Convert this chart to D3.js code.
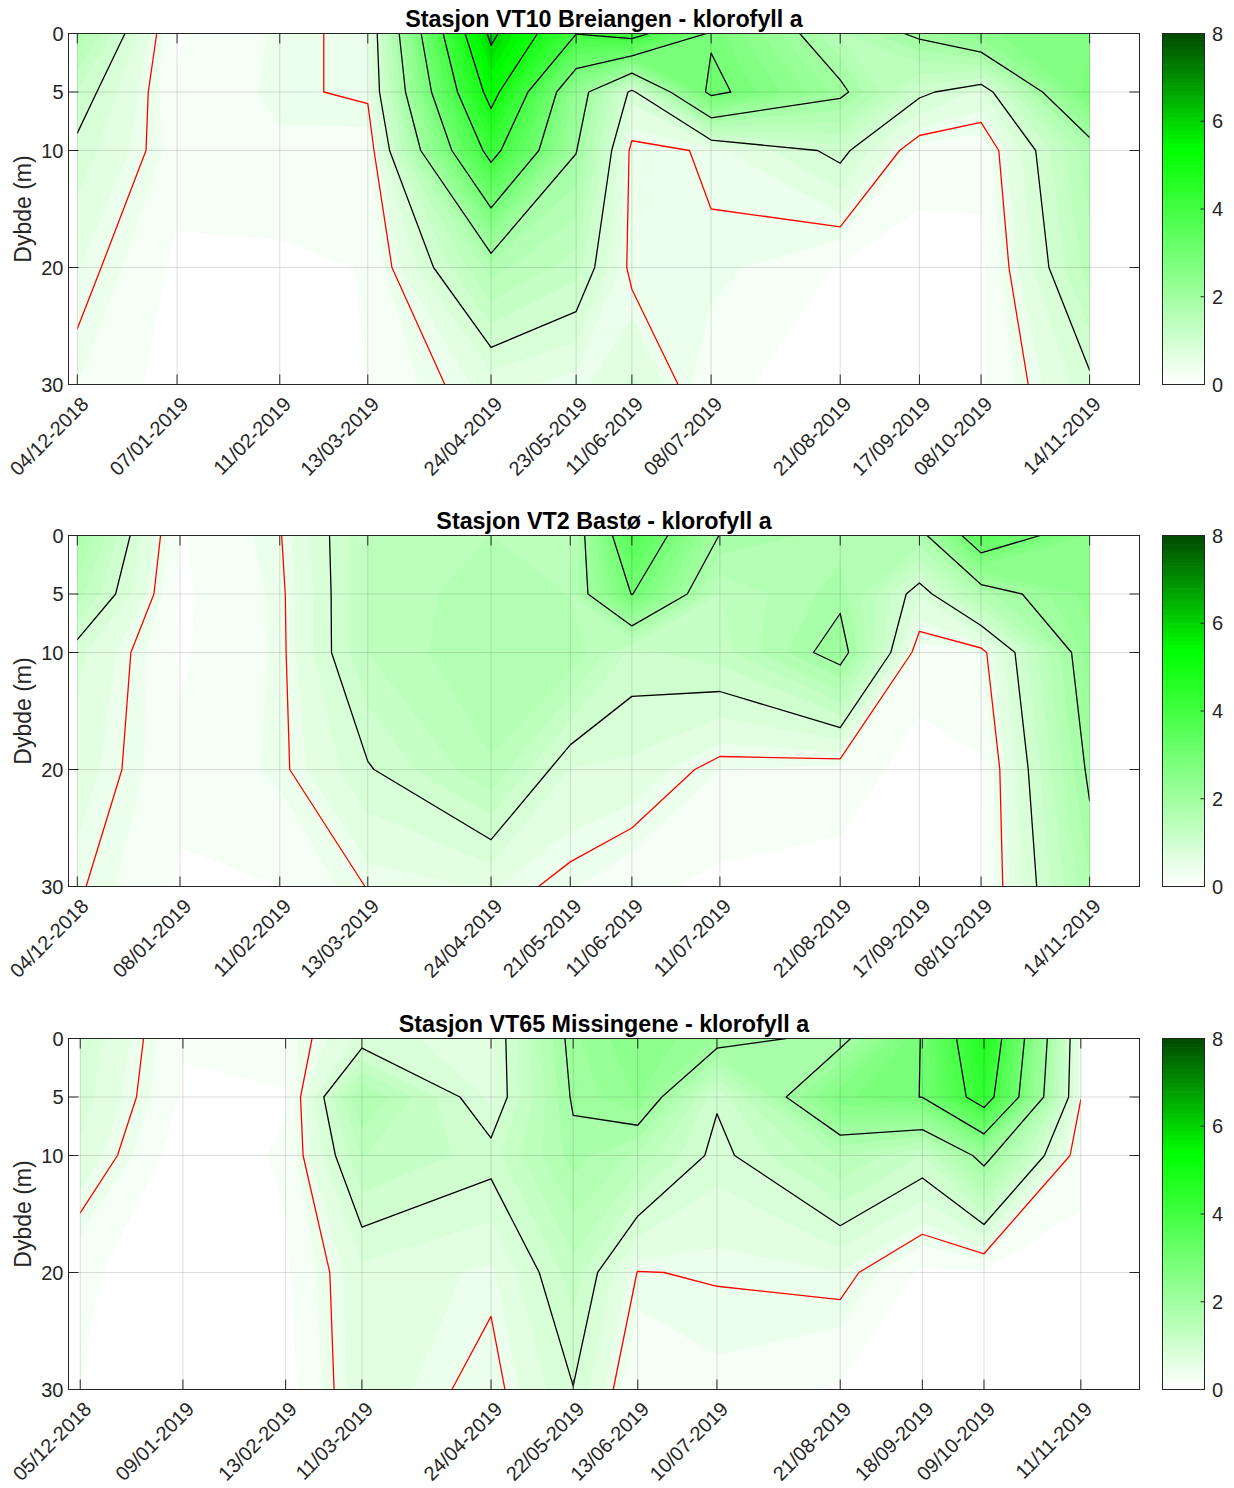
<!DOCTYPE html>
<html><head><meta charset="utf-8">
<script src="https://cdn.jsdelivr.net/npm/d3@7"></script>
<style>
html,body{margin:0;padding:0;background:#fff;}
svg{display:block;font-family:"Liberation Sans",Arial,Helvetica,sans-serif;}
</style></head><body>
<svg id="chart" width="1234" height="1488"></svg>
<script>
// ---------------- data ----------------
const depths = [0, 5, 10, 20, 30];
const depthTicks = [0, 5, 10, 20, 30];
const colorbarTicks = [0, 2, 4, 6, 8];
const redLevels = [0.5];
const blackLevels = [1, 2, 3, 4, 5, 6];
const yLabel = "Dybde (m)";

const titleVT10 = "Stasjon VT10 Breiangen - klorofyll a";
const datesVT10 = ["2018-12-04","2019-01-07","2019-02-11","2019-03-13","2019-04-24","2019-05-23","2019-06-11","2019-07-08","2019-08-21","2019-09-17","2019-10-08","2019-11-14"];
// one row per date, values at depths 0,5,10,20,30 m
const chlVT10 = [
  [1.75, 1.19, 0.92, 0.61, 0.40],
  [0.18, 0.22, 0.31, 0.15, 0.10],
  [0.43, 0.45, 0.36, 0.15, 0.10],
  [0.57, 0.55, 0.30, 0.21, 0.20],
  [6.18, 5.29, 4.26, 1.69, 0.68],
  [4.02, 2.32, 2.02, 1.29, 0.52],
  [4.30, 0.90, 0.42, 0.42, 0.85],
  [2.92, 3.16, 0.53, 0.47, 0.25],
  [1.58, 2.11, 1.10, 0.18, 0.10],
  [2.10, 1.08, 0.30, 0.10, 0.05],
  [2.58, 0.76, 0.26, 0.15, 0.17],
  [2.70, 2.95, 1.73, 1.51, 0.93]
];

const titleVT2 = "Stasjon VT2 Bastø - klorofyll a";
const datesVT2 = ["2018-12-04","2019-01-08","2019-02-11","2019-03-13","2019-04-24","2019-05-21","2019-06-11","2019-07-11","2019-08-21","2019-09-17","2019-10-08","2019-11-14"];
const chlVT2 = [
  [1.87, 1.50, 0.86, 0.70, 0.53],
  [0.18, 0.16, 0.17, 0.24, 0.18],
  [0.48, 0.44, 0.43, 0.44, 0.20],
  [1.40, 1.40, 1.40, 0.97, 0.51],
  [1.60, 1.75, 1.80, 1.57, 0.62],
  [1.48, 1.59, 1.75, 0.80, 0.42],
  [3.70, 3.02, 1.15, 0.75, 0.25],
  [1.98, 1.40, 1.30, 0.40, 0.15],
  [1.70, 1.90, 2.20, 0.33, 0.10],
  [1.78, 0.82, 0.32, 0.10, 0.05],
  [3.55, 1.70, 0.40, 0.17, 0.18],
  [2.54, 2.49, 2.32, 2.08, 1.78]
];

const titleVT65 = "Stasjon VT65 Missingene - klorofyll a";
const datesVT65 = ["2018-12-05","2019-01-09","2019-02-13","2019-03-11","2019-04-24","2019-05-22","2019-06-13","2019-07-10","2019-08-21","2019-09-18","2019-10-09","2019-11-11"];
const chlVT65 = [
  [0.95, 0.90, 0.75, 0.24, 0.20],
  [0.22, 0.17, 0.06, 0.05, 0.03],
  [0.32, 0.18, 0.23, 0.17, 0.10],
  [0.84, 1.82, 1.41, 0.74, 0.73],
  [0.75, 0.74, 1.11, 0.56, 0.40],
  [2.14, 2.05, 1.89, 1.31, 0.99],
  [2.60, 2.42, 1.55, 0.49, 0.20],
  [2.19, 1.04, 0.90, 0.52, 0.35],
  [1.85, 2.75, 1.60, 0.60, 0.17],
  [3.03, 3.01, 1.20, 0.16, 0.05],
  [4.78, 4.40, 2.18, 0.18, 0.10],
  [0.53, 0.51, 0.29, 0.10, 0.05]
];

// ---------------- layout ----------------
const svg = d3.select("#chart");
const X0 = 68.5, X1 = 1139.5, PLOT_H = 351;
const tops = [33.5, 535.5, 1038.5];
const CB_X = 1162, CB_W = 42;
const AX = "#262626";
const FS = 20;

const panels = [
  {title: titleVT10, dates: datesVT10, values: chlVT10},
  {title: titleVT2, dates: datesVT2, values: chlVT2},
  {title: titleVT65, dates: datesVT65, values: chlVT65}
];

const xScale = d3.scaleUtc()
  .domain([new Date(Date.UTC(2018, 11, 1)), new Date(Date.UTC(2019, 11, 1))])
  .range([X0, X1]);
const color = d3.scaleLinear().domain([0, 16/3, 8])
  .range(["#ffffff", "#00ff00", "#004600"]).interpolate(d3.interpolateRgb).clamp(true);
const fillThresholds = d3.range(1, 40).map(i => +(i * 0.2).toFixed(2));
const fmt = d3.utcFormat("%d/%m-%Y");
const PAD = -1e6;

function makeMap(pos) {
  const n = pos.length;
  return function (d) {
    if (d <= 0) return pos[0] + Math.max(d * 1e9, -80);
    if (d >= n - 1) return pos[n - 1] + Math.min((d - (n - 1)) * 1e9, 80);
    const i = Math.floor(d), t = d - i;
    return pos[i] + t * (pos[i + 1] - pos[i]);
  };
}

panels.forEach((p, k) => {
  const top = tops[k], bottom = top + PLOT_H;
  const y = d3.scaleLinear().domain([0, 30]).range([top, bottom]);
  const dates = p.dates.map(s => new Date(s + "T00:00:00Z"));
  const xs = dates.map(d => xScale(d));
  const ys = depths.map(d => y(d));
  const n = xs.length, m = ys.length;
  const gw = n + 2, gh = m + 2;
  const grid = new Array(gw * gh);
  for (let j = 0; j < gh; j++) for (let i = 0; i < gw; i++) {
    const edge = i === 0 || j === 0 || i === gw - 1 || j === gh - 1;
    grid[j * gw + i] = edge ? PAD : p.values[i - 1][j - 1];
  }
  const mx = makeMap(xs), my = makeMap(ys);
  const proj = d3.geoTransform({point: function (cx, cy) { this.stream.point(mx(cx - 1.5), my(cy - 1.5)); }});
  const path = d3.geoPath(proj);

  const clipId = "clip" + k;
  svg.append("clipPath").attr("id", clipId).append("rect")
    .attr("x", xs[0]).attr("y", ys[0]).attr("width", xs[n - 1] - xs[0]).attr("height", ys[m - 1] - ys[0]);

  const g = svg.append("g");
  g.append("rect").attr("x", X0).attr("y", top).attr("width", X1 - X0).attr("height", PLOT_H).attr("fill", "#fff");

  const gc = g.append("g").attr("clip-path", `url(#${clipId})`);
  gc.append("rect").attr("x", xs[0]).attr("y", ys[0]).attr("width", xs[n - 1] - xs[0]).attr("height", ys[m - 1] - ys[0]).attr("fill", color(0));
  const fills = d3.contours().size([gw, gh]).thresholds(fillThresholds)(grid);
  gc.selectAll("path.band").data(fills).join("path").attr("class", "band")
    .attr("d", path).attr("fill", d => color(d.value)).attr("fill-rule", "evenodd");

  // grid lines
  const gg = g.append("g").attr("stroke", AX).attr("stroke-opacity", 0.15).attr("stroke-width", 1);
  xs.forEach(xv => gg.append("line").attr("x1", xv).attr("x2", xv).attr("y1", top).attr("y2", bottom));
  depthTicks.forEach(d => gg.append("line").attr("x1", X0).attr("x2", X1).attr("y1", y(d)).attr("y2", y(d)));

  // contour lines
  const gl = g.append("g").attr("clip-path", `url(#${clipId})`).attr("fill", "none").attr("stroke-width", 1.3).attr("stroke-linejoin", "round");
  const blk = d3.contours().size([gw, gh]).thresholds(blackLevels)(grid);
  gl.selectAll("path.blk").data(blk).join("path").attr("class", "blk").attr("d", path).attr("stroke", "#000");
  const red = d3.contours().size([gw, gh]).thresholds(redLevels)(grid);
  gl.selectAll("path.red").data(red).join("path").attr("class", "red").attr("d", path).attr("stroke", "#ff0000");

  // axes box and ticks
  const ga = g.append("g").attr("stroke", AX).attr("stroke-width", 1).attr("fill", "none");
  ga.append("rect").attr("x", X0).attr("y", top).attr("width", X1 - X0).attr("height", PLOT_H);
  xs.forEach(xv => {
    ga.append("line").attr("x1", xv).attr("x2", xv).attr("y1", bottom).attr("y2", bottom - 10);
    ga.append("line").attr("x1", xv).attr("x2", xv).attr("y1", top).attr("y2", top + 10);
  });
  depthTicks.forEach(d => {
    ga.append("line").attr("x1", X0).attr("x2", X0 + 10).attr("y1", y(d)).attr("y2", y(d));
    ga.append("line").attr("x1", X1).attr("x2", X1 - 10).attr("y1", y(d)).attr("y2", y(d));
  });

  // tick labels
  const gt = g.append("g").attr("fill", AX).attr("font-size", FS);
  dates.forEach((d, i) => {
    gt.append("text").attr("transform", `translate(${xs[i] + 12.5},${bottom + 21}) rotate(-45)`)
      .attr("text-anchor", "end").text(fmt(d));
  });
  depthTicks.forEach(d => {
    gt.append("text").attr("x", X0 - 5).attr("y", y(d)).attr("dy", "0.35em").attr("text-anchor", "end").text(d);
  });
  gt.append("text").attr("transform", `translate(31,${(top + bottom) / 2}) rotate(-90)`)
    .attr("text-anchor", "middle").attr("font-size", 23).text(yLabel);

  // title
  g.append("text").attr("x", (X0 + X1) / 2).attr("y", top - 6.8).attr("text-anchor", "middle")
    .attr("font-size", 23.3).attr("font-weight", "bold").attr("fill", "#000").text(p.title);

  // colorbar
  const cb = d3.scaleLinear().domain([0, 8]).range([bottom, top]);
  const gcb = g.append("g");
  d3.range(0, 80).forEach(i => {
    const v0 = i * 0.1, v1 = (i + 1) * 0.1;
    gcb.append("rect").attr("x", CB_X).attr("width", CB_W)
      .attr("y", cb(v1)).attr("height", cb(v0) - cb(v1) + 0.6).attr("fill", color(v0));
  });
  gcb.append("rect").attr("x", CB_X + 0.5).attr("y", top).attr("width", CB_W).attr("height", PLOT_H)
    .attr("fill", "none").attr("stroke", AX).attr("stroke-width", 1);
  colorbarTicks.forEach(v => {
    gcb.append("line").attr("x1", CB_X + CB_W + 0.5).attr("x2", CB_X + CB_W - 3.5).attr("y1", cb(v)).attr("y2", cb(v)).attr("stroke", AX);
    gcb.append("text").attr("x", CB_X + CB_W + 8).attr("y", cb(v)).attr("dy", "0.35em").attr("fill", AX).attr("font-size", FS).text(v);
  });
});
</script>
</body></html>
